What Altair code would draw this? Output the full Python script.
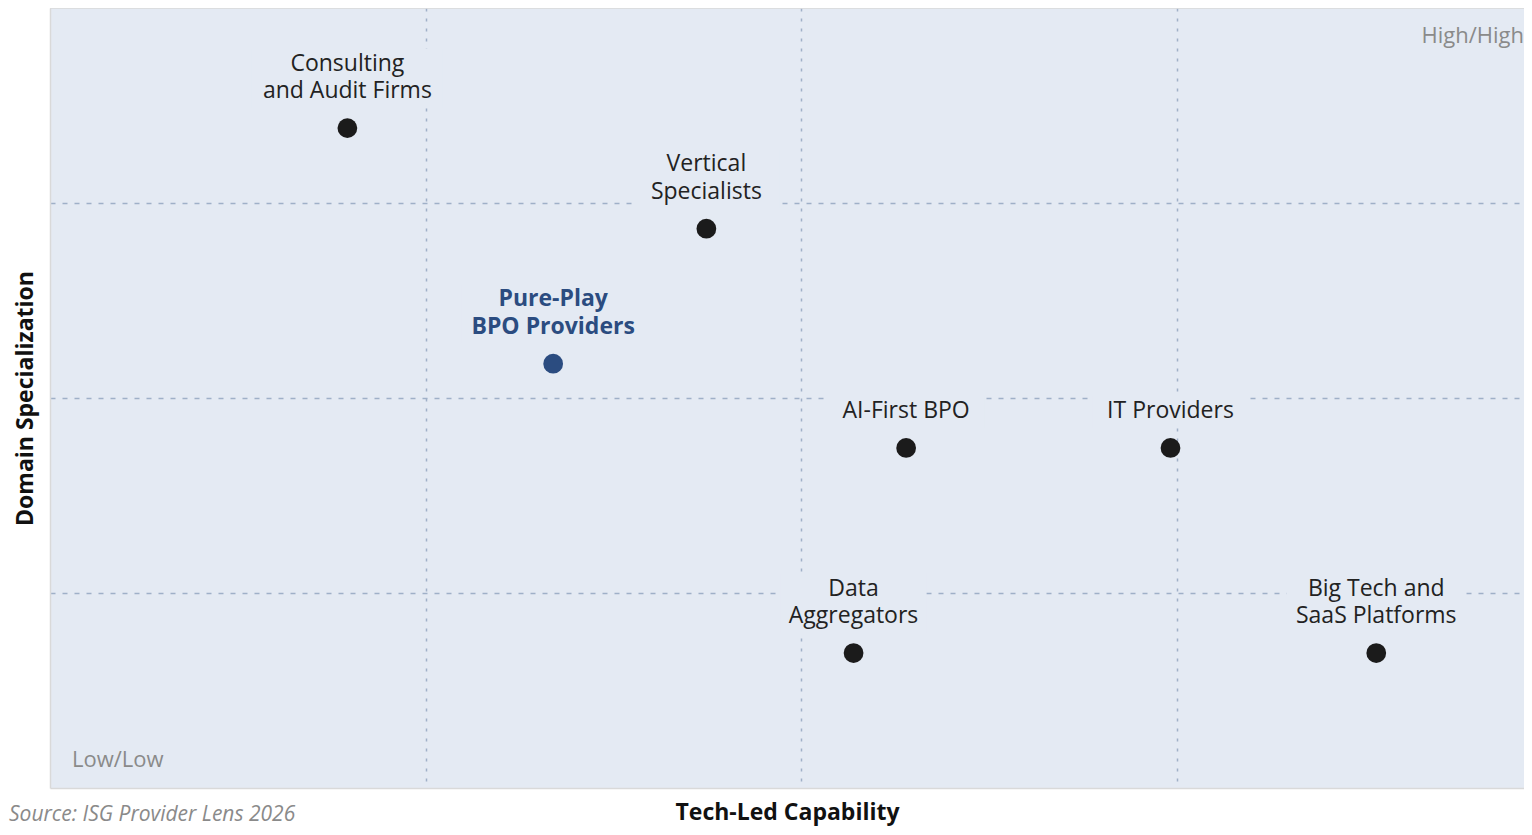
import altair as alt
import pandas as pd

# ---- data ----
top_line = ["Consulting", "Vertical", "Pure-Play", "", "", "Data", "Big Tech and"]
bottom_line = ["and Audit Firms", "Specialists", "BPO Providers", "AI-First BPO",
               "IT Providers", "Aggregators", "SaaS Platforms"]
tech_led = [1.98, 4.37, 3.35, 5.70, 7.46, 5.35, 8.83]
domain_spec = [8.46, 7.17, 5.44, 4.36, 4.36, 1.73, 1.73]
highlight = [False, False, True, False, False, False, False]

corner_text = ["High/High", "Low/Low"]
corner_x = [10, 0]
corner_y = [10, 0]
source_text = "Source: ISG Provider Lens 2026"

BG = "#e4eaf3"
FONT = "Open Sans"
BLUE = "#2b4c80"
BORDER = "#d9d9d9"
GRID = "#9fb0c8"

W, H = 1474, 780
XMAX = 10 * W / 1502.0
XPX = W / XMAX      # pixels per x unit
YPX = H / 10.0      # pixels per y unit
DY_BOTTOM, LINE_H = -37, 27.5

df = pd.DataFrame({"top": top_line, "bottom": bottom_line, "x": tech_led,
                   "y": domain_spec, "hl": highlight})
df["label"] = [(t + "\n" + b) if t else b for t, b in zip(df["top"], df["bottom"])]
df["two"] = df["top"] != ""

xscale = alt.Scale(domain=[0, XMAX], nice=False, zero=False)
yscale = alt.Scale(domain=[0, 10], nice=False, zero=False)

xaxis = alt.Axis(
    values=[2.5, 5, 7.5], labels=False, ticks=False,
    domain=True, domainColor=BORDER, domainWidth=1.5,
    grid=True, gridColor=GRID, gridDash=[3, 7], gridWidth=1.5,
    title="Tech-Led Capability", titleFont=FONT, titleFontSize=23,
    titleFontWeight="bold", titleColor="#111111", titlePadding=13,
)
yaxis = alt.Axis(
    values=[2.5, 5, 7.5], labels=False, ticks=False,
    domain=True, domainColor=BORDER, domainWidth=1.5,
    grid=True, gridColor=GRID, gridDash=[5, 7], gridWidth=1.5,
    title="Domain Specialization", titleFont=FONT, titleFontSize=23,
    titleFontWeight="bold", titleColor="#111111", titlePadding=13,
)

X = lambda: alt.X("x:Q", scale=xscale)
Y = lambda: alt.Y("y:Q", scale=yscale)

pts = alt.Chart(df[~df["hl"]]).mark_circle(size=390, opacity=1, color="#1b1b1b").encode(
    x=alt.X("x:Q", scale=xscale, axis=xaxis),
    y=alt.Y("y:Q", scale=yscale, axis=yaxis),
)
pts_hl = alt.Chart(df[df["hl"]]).mark_circle(size=390, opacity=1, color=BLUE).encode(x=X(), y=Y())

# top border of the plot frame (right edge lies beyond the window in the reference)
top_border = alt.Chart(df.iloc[[0]]).mark_rule(color=BORDER, strokeWidth=1.5).encode(
    x=alt.value(0), x2=alt.value(W), y=alt.value(0)
)

# background boxes behind each label block (they interrupt the grid as in the reference)
boxes = alt.Chart(df).transform_calculate(
    maxlen="max(length(datum.top), length(datum.bottom))",
    nlines="datum.top == '' ? 1 : 2",
    cw="datum.hl ? 12.6 : 11.4",
    hw=f"(datum.maxlen * datum.cw / 2 + 10) / {XPX}",
    bx1="datum.x - datum.hw",
    bx2="datum.x + datum.hw",
    by1=f"datum.y + {(-DY_BOTTOM) - 17} / {YPX}",
    by2=f"datum.y + ({(-DY_BOTTOM) + 15} + (datum.nlines - 1) * {LINE_H}) / {YPX}",
).mark_rect(color=BG).encode(
    x=alt.X("bx1:Q", scale=xscale), x2="bx2:Q",
    y=alt.Y("by1:Q", scale=yscale), y2="by2:Q",
)

def label_layer(d, color, weight, dy):
    return alt.Chart(d).mark_text(
        color=color, font=FONT, fontSize=23, fontWeight=weight, align="center",
        baseline="middle", lineBreak="\n", lineHeight=LINE_H, dy=dy
    ).encode(x=X(), y=Y(), text="label:N")

labels = []
for hl, color, weight in ((False, "#222222", "normal"), (True, BLUE, "bold")):
    for two, dy in ((False, DY_BOTTOM), (True, DY_BOTTOM - LINE_H)):
        sub = df[(df["hl"] == hl) & (df["two"] == two)]
        if len(sub):
            labels.append(label_layer(sub, color, weight, dy))

cdf = pd.DataFrame({"t": corner_text, "x": corner_x, "y": corner_y})
c_hi = alt.Chart(cdf.iloc[[0]]).mark_text(
    font=FONT, fontSize=22, color="#8a8a8a", align="right", baseline="middle", dx=-28, dy=28
).encode(x=X(), y=Y(), text="t:N")
c_lo = alt.Chart(cdf.iloc[[1]]).mark_text(
    font=FONT, fontSize=22, color="#8a8a8a", align="left", baseline="middle", dx=22, dy=-28
).encode(x=X(), y=Y(), text="t:N")

src = alt.Chart(pd.DataFrame({"t": [source_text]})).mark_text(
    font=FONT, fontSize=21, fontStyle="italic", color="#8a8a8a", align="left",
    baseline="alphabetic"
).encode(x=alt.value(-41), y=alt.value(H + 33), text="t:N")

chart = alt.layer(
    pts, pts_hl, top_border, boxes, c_hi, c_lo, *labels, src
).properties(
    width=W,
    height=H,
    autosize=alt.AutoSizeParams(type="none"),
    padding={"left": 42, "top": 0, "right": 0, "bottom": 39},
    background="white",
).configure_view(
    fill=BG, stroke="transparent", strokeWidth=0
)

chart.save("out.html", embed_options={"renderer": "svg", "actions": False})
